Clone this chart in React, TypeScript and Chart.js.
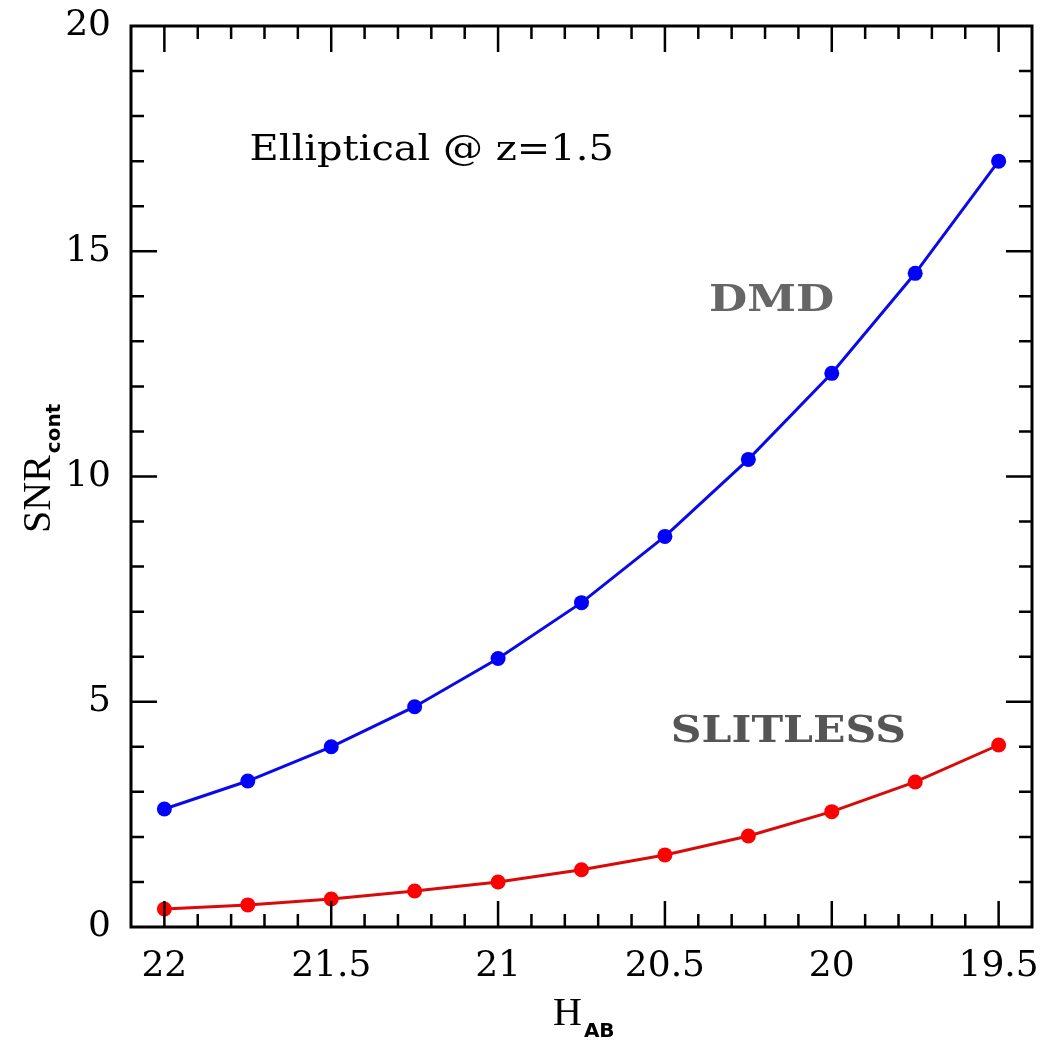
import React, { useEffect, useRef } from 'react';
import { Chart, registerables } from 'chart.js';

Chart.register(...registerables);

const hAB = [22, 21.75, 21.5, 21.25, 21, 20.75, 20.5, 20.25, 20, 19.75, 19.5];
const snrDMD = [2.62, 3.24, 4.0, 4.89, 5.96, 7.2, 8.67, 10.38, 12.29, 14.51, 17.0];
const snrSlitless = [0.4, 0.49, 0.62, 0.8, 1.0, 1.27, 1.6, 2.02, 2.56, 3.22, 4.04];
const xTickValues = [22, 21.5, 21, 20.5, 20, 19.5];
const yTickValues = [0, 5, 10, 15, 20];
const xRange = [19.4, 22.1];
const yRange = [0, 20];
const plotTitle = 'Elliptical @ z=1.5';
const labelDMD = 'DMD';
const labelSlitless = 'SLITLESS';

const framePlugin = {
  id: 'framePlugin',
  afterDraw(chart: any) {
    const { ctx, chartArea: a, scales } = chart;
    const xs = scales.x;
    const ys = scales.y;
    ctx.save();
    ctx.strokeStyle = '#000';
    ctx.lineCap = 'butt';
    // ticks
    ctx.lineWidth = 2.5;
    for (let i = 195; i <= 220; i++) {
      const px = xs.getPixelForValue(i / 10);
      const len = i % 5 === 0 ? 26 : 13;
      ctx.beginPath();
      ctx.moveTo(px, a.bottom);
      ctx.lineTo(px, a.bottom - len);
      ctx.moveTo(px, a.top);
      ctx.lineTo(px, a.top + len);
      ctx.stroke();
    }
    for (let j = 1; j < 20; j++) {
      const py = ys.getPixelForValue(j);
      const len = j % 5 === 0 ? 26 : 13;
      ctx.beginPath();
      ctx.moveTo(a.left, py);
      ctx.lineTo(a.left + len, py);
      ctx.moveTo(a.right, py);
      ctx.lineTo(a.right - len, py);
      ctx.stroke();
    }
    // frame
    ctx.lineWidth = 3;
    ctx.strokeRect(a.left, a.top, a.right - a.left, a.bottom - a.top);

    // title in plot
    ctx.save();
    ctx.fillStyle = '#000';
    ctx.textAlign = 'left';
    ctx.textBaseline = 'alphabetic';
    ctx.font = '36px "DejaVu Serif"';
    ctx.translate(xs.getPixelForValue(21.745), ys.getPixelForValue(17.02));
    ctx.scale(1.11, 1);
    ctx.fillText(plotTitle, 0, 0);
    ctx.restore();

    // DMD / SLITLESS labels
    const drawWide = (txt: string, cx: number, cy: number, color: string, size: number, sx: number) => {
      ctx.save();
      ctx.font = `bold ${size}px "DejaVu Serif"`;
      ctx.fillStyle = color;
      ctx.textAlign = 'center';
      ctx.textBaseline = 'middle';
      ctx.translate(cx, cy);
      ctx.scale(sx, 1);
      ctx.fillText(txt, 0, 0);
      ctx.restore();
    };
    drawWide(labelDMD, xs.getPixelForValue(20.18), ys.getPixelForValue(13.9), '#666666', 38, 1.16);
    drawWide(labelSlitless, xs.getPixelForValue(20.13), ys.getPixelForValue(4.32), '#555555', 38, 1.12);

    // y axis label: SNR_cont
    ctx.save();
    ctx.translate(50, 533);
    ctx.rotate(-Math.PI / 2);
    ctx.fillStyle = '#000';
    ctx.textAlign = 'left';
    ctx.textBaseline = 'alphabetic';
    ctx.font = '40px "Liberation Serif"';
    ctx.fillText('SNR', 0, 0);
    const w = ctx.measureText('SNR').width;
    ctx.font = 'bold 20px "DejaVu Sans"';
    ctx.fillText('cont', w + 2, 10);
    ctx.restore();

    // x axis label: H_AB
    ctx.save();
    ctx.fillStyle = '#000';
    ctx.textAlign = 'left';
    ctx.textBaseline = 'alphabetic';
    ctx.font = '40px "Liberation Serif"';
    ctx.fillText('H', 553, 1025);
    const wh = ctx.measureText('H').width;
    ctx.font = 'bold 20px "DejaVu Sans"';
    ctx.fillText('AB', 553 + wh + 2, 1037);
    ctx.restore();

    ctx.restore();
  },
};

export default function App() {
  const canvasRef = useRef<HTMLCanvasElement | null>(null);

  useEffect(() => {
    if (!canvasRef.current) return;
    const tickFont = { family: '"DejaVu Serif"', size: 36 };
    const chart = new Chart(canvasRef.current, {
      type: 'scatter',
      data: {
        datasets: [
          {
            label: 'DMD',
            data: hAB.map((x, i) => ({ x, y: snrDMD[i] })),
            showLine: true,
            borderColor: '#0a0ae8',
            backgroundColor: '#0000ff',
            borderWidth: 3,
            pointRadius: 7.5,
            pointBorderWidth: 0,
            tension: 0,
          },
          {
            label: 'SLITLESS',
            data: hAB.map((x, i) => ({ x, y: snrSlitless[i] })),
            showLine: true,
            borderColor: '#d80a0a',
            backgroundColor: '#ff0000',
            borderWidth: 3,
            pointRadius: 7.5,
            pointBorderWidth: 0,
            tension: 0,
          },
        ],
      },
      options: {
        animation: false,
        responsive: true,
        maintainAspectRatio: false,
        layout: { padding: { top: 26, right: 16, left: 0, bottom: 0 } },
        plugins: {
          legend: { display: false },
          tooltip: { enabled: false },
          title: { display: false },
        },
        scales: {
          x: {
            type: 'linear',
            reverse: true,
            min: xRange[0],
            max: xRange[1],
            afterBuildTicks: (scale: any) => {
              scale.ticks = xTickValues.map((v) => ({ value: v }));
            },
            afterFit: (scale: any) => {
              scale.height = 115;
              scale.paddingLeft = 0;
              scale.paddingRight = 0;
            },
            grid: { display: false, drawTicks: false },
            border: { display: false },
            ticks: {
              font: tickFont,
              color: '#000',
              padding: 18,
              maxRotation: 0,
              autoSkip: false,
              callback: (v: any) => String(v),
            },
          },
          y: {
            type: 'linear',
            min: yRange[0],
            max: yRange[1],
            afterBuildTicks: (scale: any) => {
              scale.ticks = yTickValues.map((v) => ({ value: v }));
            },
            afterFit: (scale: any) => {
              scale.width = 131;
              scale.paddingTop = 0;
              scale.paddingBottom = 0;
            },
            grid: { display: false, drawTicks: false },
            border: { display: false },
            ticks: {
              font: tickFont,
              color: '#000',
              padding: 20,
              autoSkip: false,
              callback: (v: any) => String(v),
            },
          },
        },
      },
      plugins: [framePlugin],
    } as any);
    return () => chart.destroy();
  }, []);

  return (
    <div style={{ position: 'fixed', left: 0, top: 0, width: 1048, height: 1042, background: '#fff' }}>
      <canvas ref={canvasRef} style={{ display: 'block' }} />
    </div>
  );
}
